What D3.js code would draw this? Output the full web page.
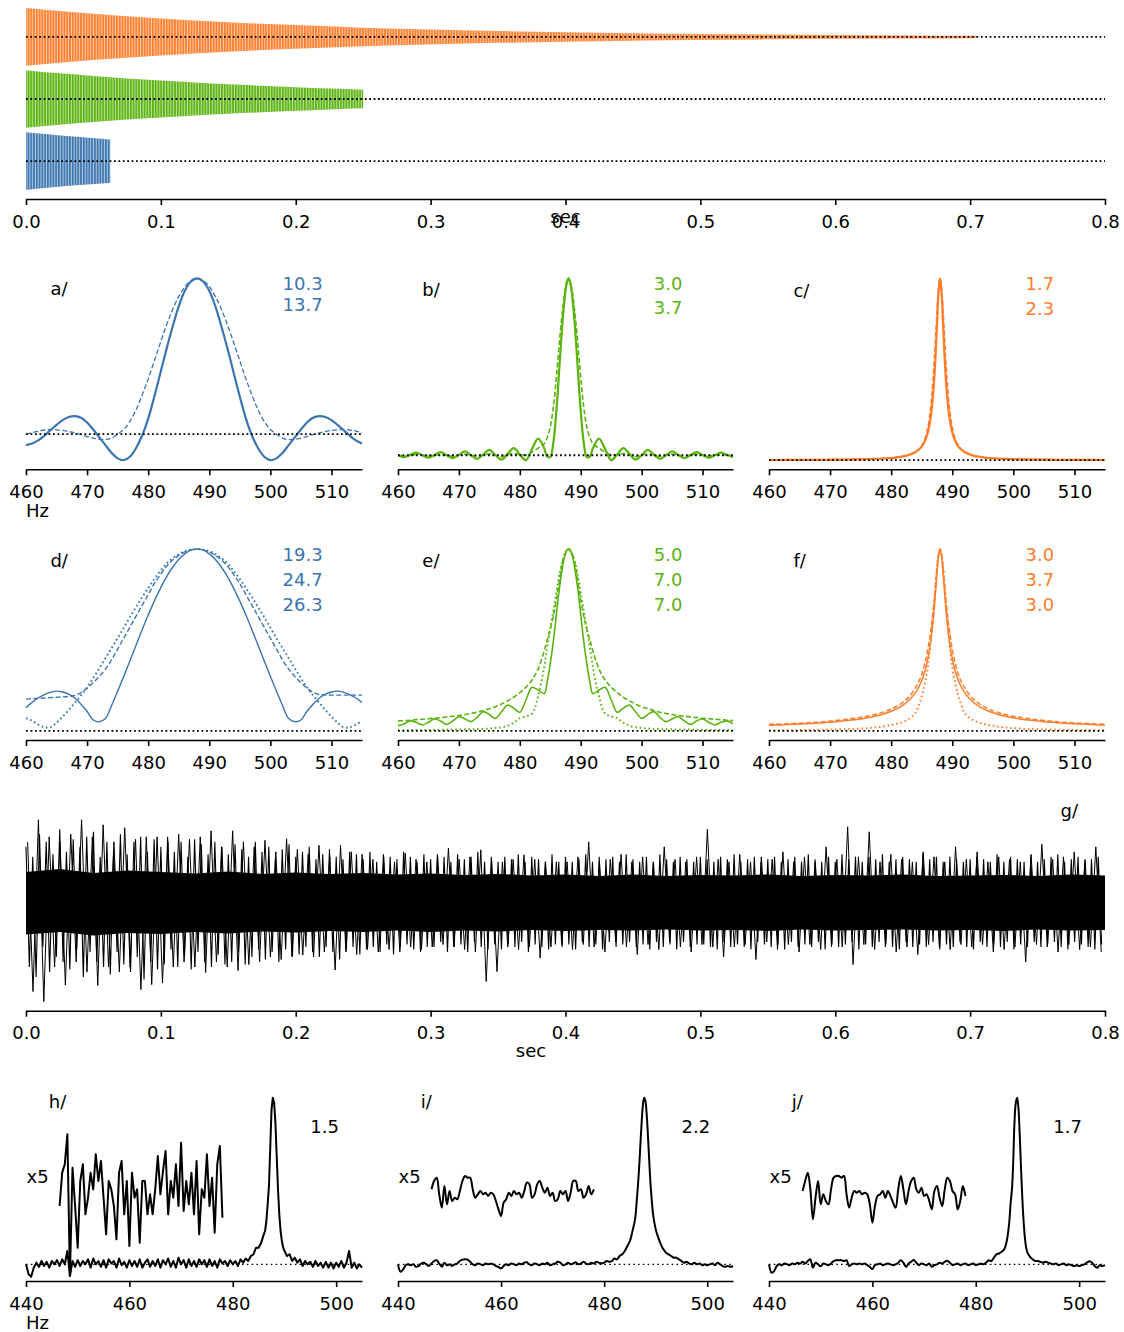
<!DOCTYPE html>
<html><head><meta charset="utf-8">
<script src="https://cdn.jsdelivr.net/npm/d3@7"></script>
<style>
body{margin:0;background:#fff;}
svg text{font-family:"DejaVu Sans",sans-serif;}
</style></head><body>
<svg id="c" width="1124" height="1332"></svg>
<script>
// ---------------- DATA ----------------
const signalHz = 488;
// top panel: FID envelopes (fraction of initial amplitude) and vertical offsets
const fidOffsets = {blue: 0, green: 2.15, orange: 4.3};
const blueT = [0, 0.02, 0.04, 0.0625];
const blueEnv = [1.0, 0.91, 0.83, 0.75];
const greenT = [0, 0.025, 0.05, 0.075, 0.1, 0.125, 0.15, 0.175, 0.2, 0.225, 0.25];
const greenEnv = [1.0, 0.89, 0.8, 0.71, 0.64, 0.57, 0.51, 0.46, 0.41, 0.36, 0.32];
const orangeT = [0, 0.05, 0.1, 0.15, 0.2, 0.25, 0.3, 0.35, 0.4, 0.45, 0.5, 0.55, 0.6, 0.65, 0.7, 0.705];
const orangeEnv = [1.0, 0.8, 0.64, 0.51, 0.41, 0.32, 0.26, 0.205, 0.165, 0.13, 0.105, 0.083, 0.066, 0.053, 0.042, 0.04];
const secTicks = [0, 0.1, 0.2, 0.3, 0.4, 0.5, 0.6, 0.7, 0.8];

// spectra grids
const wideHz = d3.range(460, 516, 1);
const narrowHz = [...d3.range(460, 485), 484.5, 485, 485.5, 486, 486.5, 487, 487.25, 487.5, 487.75, 488, 488.25, 488.5, 488.75, 489, 489.5, 490, 490.5, 491, 491.5, ...d3.range(492, 516)];
const hzTicks = [460, 470, 480, 490, 500, 510];

const aSolid = [-0.07,-0.06,-0.04,-0.01,0.025,0.06,0.09,0.11,0.116,0.105,0.075,0.03,-0.02,-0.07,-0.12,-0.155,-0.167,-0.145,-0.09,-0.01,0.1,0.24,0.393,0.547,0.69,0.82,0.92,0.98,1.0,0.98,0.92,0.82,0.69,0.547,0.393,0.24,0.1,-0.01,-0.09,-0.145,-0.167,-0.155,-0.12,-0.07,-0.02,0.03,0.075,0.105,0.116,0.11,0.09,0.06,0.025,-0.01,-0.04,-0.06];
const aDashed = [0.0,0.01,0.02,0.027,0.03,0.028,0.024,0.017,0.008,-0.003,-0.015,-0.025,-0.033,-0.035,-0.025,0.0,0.03,0.082,0.155,0.25,0.355,0.47,0.587,0.7,0.8,0.883,0.947,0.986,1.0,0.986,0.947,0.883,0.8,0.7,0.587,0.47,0.355,0.25,0.155,0.082,0.03,0.0,-0.025,-0.035,-0.033,-0.025,-0.015,-0.003,0.008,0.017,0.024,0.028,0.03,0.027,0.02,0.01];

const bSolid = [0.0,-0.011,0.002,0.015,0.0,-0.013,0.002,0.018,0.0,-0.016,0.002,0.022,0.0,-0.02,0.004,0.03,0.0,-0.025,0.008,0.04,0.005,-0.028,0.035,0.094,0.04,
  -0.008,-0.01,0.07,0.25,0.5,0.75,0.85,0.93,0.98,1.0,0.98,0.93,0.85,0.75,0.5,0.25,0.07,-0.01,-0.008,
  0.04,0.094,0.035,-0.028,0.005,0.04,0.008,-0.025,0.0,0.03,0.004,-0.02,0.0,0.022,0.002,-0.016,0.0,0.018,0.002,-0.013,0.0,0.015,0.002,-0.011];
const bDashed = [0,-0.003,0,0.004,0,-0.004,0,0.005,0,-0.005,0,0.006,0,-0.006,0.001,0.008,0,-0.008,0.003,0.01,0.004,0.002,0.018,0.04,0.065,
  0.1,0.16,0.27,0.44,0.64,0.82,0.89,0.95,0.985,1,0.985,0.95,0.89,0.82,0.64,0.44,0.27,0.16,0.1,
  0.065,0.04,0.018,0.002,0.004,0.01,0.003,-0.008,0,0.008,0.001,-0.006,0,0.006,0,-0.005,0,0.005,0,-0.004,0,0.004,0,-0.003];

const cSolid = [0.001,0.0012,0.0013,0.0014,0.0015,0.0016,0.0018,0.002,0.0022,0.0025,0.0028,0.003,0.0035,0.004,0.0045,0.005,0.006,0.007,0.008,0.01,0.012,0.016,0.021,0.03,0.045,
  0.058,0.075,0.104,0.153,0.243,0.42,0.562,0.743,0.92,1,0.92,0.743,0.562,0.42,0.243,0.153,0.104,0.075,0.058,
  0.045,0.03,0.021,0.016,0.012,0.01,0.008,0.007,0.006,0.005,0.0045,0.004,0.0035,0.003,0.0028,0.0025,0.0022,0.002,0.0018,0.0016,0.0015,0.0014,0.0013,0.0012];
const cDashed = [0.0012,0.0013,0.0015,0.0016,0.0017,0.0018,0.002,0.0022,0.0024,0.0027,0.003,0.0033,0.0037,0.0042,0.0047,0.0053,0.0062,0.0072,0.0085,0.0105,0.013,0.017,0.022,0.031,0.047,
  0.06,0.08,0.115,0.18,0.3,0.52,0.66,0.82,0.95,1,0.95,0.82,0.66,0.52,0.3,0.18,0.115,0.08,0.06,
  0.047,0.031,0.022,0.017,0.013,0.0105,0.0085,0.0072,0.0062,0.0053,0.0047,0.0042,0.0037,0.0033,0.003,0.0027,0.0024,0.0022,0.002,0.0018,0.0017,0.0016,0.0015,0.0013];

const dSolid = [0.128,0.157,0.181,0.2,0.212,0.219,0.214,0.202,0.18,0.147,0.108,0.06,0.05,0.068,0.139,0.218,0.3,0.385,0.47,0.555,0.637,0.714,0.784,0.847,0.9,0.943,0.974,0.994,1.0,0.994,0.974,0.943,0.9,0.847,0.784,0.714,0.637,0.555,0.47,0.385,0.3,0.218,0.139,0.068,0.05,0.06,0.108,0.147,0.18,0.202,0.214,0.219,0.212,0.2,0.181,0.157];
const dDashed = [0.175,0.177,0.179,0.181,0.183,0.185,0.187,0.19,0.195,0.21,0.235,0.265,0.3,0.34,0.39,0.45,0.51,0.57,0.63,0.69,0.75,0.81,0.86,0.905,0.94,0.965,0.985,0.996,1.0,0.996,0.985,0.965,0.94,0.905,0.86,0.81,0.75,0.69,0.63,0.57,0.51,0.45,0.39,0.34,0.3,0.265,0.235,0.212,0.2,0.198,0.197,0.197,0.197,0.197,0.197,0.197];
const dDotted = [0.07,0.055,0.035,0.02,0.02,0.045,0.078,0.115,0.155,0.195,0.24,0.29,0.345,0.4,0.455,0.51,0.567,0.625,0.68,0.735,0.785,0.835,0.88,0.92,0.95,0.972,0.988,0.997,1.0,0.997,0.988,0.972,0.95,0.92,0.88,0.835,0.785,0.735,0.68,0.625,0.567,0.51,0.455,0.4,0.345,0.29,0.24,0.195,0.155,0.115,0.078,0.045,0.02,0.02,0.035,0.055];

const eSolid = [0.029,0.04,0.055,0.047,0.033,0.048,0.066,0.054,0.036,0.055,0.078,0.066,0.051,0.075,0.106,0.09,0.069,0.105,0.142,0.125,0.102,0.17,0.24,0.225,0.205,
  0.27,0.37,0.49,0.64,0.785,0.9,0.945,0.975,0.995,1,0.995,0.975,0.945,0.9,0.785,0.64,0.49,0.37,0.27,
  0.205,0.225,0.24,0.17,0.102,0.125,0.142,0.105,0.069,0.09,0.106,0.075,0.051,0.066,0.078,0.055,0.036,0.054,0.066,0.048,0.033,0.047,0.055,0.04];
const eDashed = [0.055,0.057,0.059,0.062,0.064,0.067,0.07,0.073,0.077,0.081,0.085,0.09,0.096,0.103,0.112,0.122,0.133,0.148,0.165,0.185,0.21,0.24,0.28,0.34,0.44,
  0.5,0.56,0.63,0.72,0.83,0.93,0.96,0.98,0.995,1,0.995,0.98,0.96,0.93,0.83,0.72,0.63,0.56,0.5,
  0.44,0.34,0.28,0.24,0.21,0.185,0.165,0.148,0.133,0.122,0.112,0.103,0.096,0.09,0.085,0.081,0.077,0.073,0.07,0.067,0.064,0.062,0.059,0.057];
const eDotted = [0.004,0.004,0.0045,0.005,0.005,0.0055,0.006,0.0065,0.007,0.0075,0.008,0.0085,0.009,0.01,0.011,0.013,0.016,0.02,0.028,0.045,0.07,0.08,0.095,0.19,0.35,
  0.46,0.56,0.66,0.76,0.86,0.935,0.96,0.982,0.995,1,0.995,0.982,0.96,0.935,0.86,0.76,0.66,0.56,0.46,
  0.35,0.19,0.095,0.08,0.07,0.045,0.028,0.02,0.016,0.013,0.011,0.01,0.009,0.0085,0.008,0.0075,0.007,0.0065,0.006,0.0055,0.005,0.005,0.0045,0.004];

const fSolid = [0.031,0.032,0.033,0.035,0.036,0.038,0.039,0.041,0.043,0.045,0.048,0.051,0.054,0.058,0.062,0.066,0.072,0.078,0.086,0.096,0.108,0.123,0.143,0.171,0.212,
  0.24,0.277,0.327,0.397,0.5,0.655,0.756,0.866,0.961,1,0.961,0.866,0.756,0.655,0.5,0.397,0.327,0.277,0.24,
  0.212,0.171,0.143,0.123,0.108,0.096,0.086,0.078,0.072,0.066,0.062,0.058,0.054,0.051,0.048,0.045,0.043,0.041,0.039,0.038,0.036,0.035,0.033,0.032];
const fDashed = [0.036,0.037,0.038,0.039,0.041,0.042,0.044,0.046,0.048,0.051,0.054,0.057,0.061,0.065,0.07,0.075,0.081,0.088,0.096,0.107,0.12,0.137,0.16,0.19,0.24,
  0.27,0.31,0.37,0.45,0.56,0.71,0.8,0.9,0.972,1,0.972,0.9,0.8,0.71,0.56,0.45,0.37,0.31,0.27,
  0.24,0.19,0.16,0.137,0.12,0.107,0.096,0.088,0.081,0.075,0.07,0.065,0.061,0.057,0.054,0.051,0.048,0.046,0.044,0.042,0.041,0.039,0.038,0.037];
const fDotted = [0.003,0.0032,0.0035,0.0038,0.004,0.0044,0.0048,0.0052,0.0057,0.0063,0.007,0.0078,0.0088,0.01,0.011,0.013,0.015,0.018,0.021,0.026,0.032,0.04,0.05,0.068,0.1,
  0.14,0.19,0.26,0.35,0.5,0.69,0.8,0.9,0.97,1,0.97,0.9,0.8,0.69,0.5,0.35,0.26,0.19,0.14,
  0.1,0.068,0.05,0.04,0.032,0.026,0.021,0.018,0.015,0.013,0.011,0.01,0.0088,0.0078,0.007,0.0063,0.0057,0.0052,0.0048,0.0044,0.004,0.0038,0.0035,0.0032];

const widthLabels = {a: ["10.3","13.7"], b: ["3.0","3.7"], c: ["1.7","2.3"], d: ["19.3","24.7","26.3"], e: ["5.0","7.0","7.0"], f: ["3.0","3.7","3.0"]};

// g/: noisy FID — dense core envelope, sampled fine excursions and sampled large excursions
const gEnvStep = 0.025;
const gUpper = [0.6,0.66,0.58,0.63,0.6,0.57,0.61,0.56,0.59,0.56,0.58,0.55,0.57,0.54,0.56,0.53,0.55,0.52,0.55,0.52,0.54,0.53,0.55,0.52,0.54,0.53,0.55,0.52,0.53,0.54,0.52,0.55,0.53];
const gLower = [-0.65,-0.6,-0.67,-0.62,-0.64,-0.6,-0.63,-0.59,-0.61,-0.58,-0.6,-0.57,-0.6,-0.57,-0.59,-0.56,-0.58,-0.56,-0.57,-0.55,-0.57,-0.56,-0.58,-0.55,-0.57,-0.56,-0.55,-0.57,-0.56,-0.58,-0.55,-0.57,-0.56];
const gHairStep = 0.0025;
const gHair = [1.1,-1.3,0.9,-1.5,1.35,-0.9,1.2,-1.4,0.95,-1.1,1.45,-1.2,1.0,-1.35,1.25,-0.95,1.1,-1.5,1.3,-1.0,
  1.4,-1.2,0.9,-1.3,1.2,-1.45,1.05,-1.0,1.35,-1.25,0.95,-1.4,1.2,-1.1,1.3,-1.55,1.0,-1.2,1.25,-1.35,
  1.1,-1.25,1.3,-0.95,1.0,-1.3,1.2,-1.1,0.9,-1.35,1.25,-1.0,1.15,-1.2,0.95,-1.3,1.2,-1.05,1.1,-1.25,
  0.95,-1.2,1.15,-1.0,1.05,-1.25,0.9,-1.1,1.2,-0.95,1.0,-1.15,1.1,-1.0,0.9,-1.2,1.05,-0.95,1.15,-1.1,
  0.9,-1.05,1.0,-0.9,1.1,-1.0,0.85,-1.1,0.95,-0.9,1.05,-1.0,0.9,-1.15,0.85,-0.95,1.0,-0.9,0.95,-1.05,
  0.85,-0.95,1.0,-0.9,0.8,-1.0,0.95,-0.85,0.9,-1.05,0.85,-0.9,1.0,-0.85,0.9,-0.95,0.8,-1.0,0.95,-0.9,
  0.85,-0.9,0.95,-0.8,0.9,-1.0,0.8,-0.9,0.95,-0.85,0.85,-1.0,0.9,-0.8,1.0,-0.9,0.8,-0.95,0.9,-0.85,
  0.8,-0.95,0.9,-0.85,0.85,-0.9,0.95,-0.8,0.8,-1.0,0.9,-0.85,0.85,-0.9,0.8,-0.95,0.95,-0.85,0.8,-0.9,
  0.9,-0.85,0.8,-0.95,0.85,-0.8,0.95,-0.9,0.8,-0.85,0.9,-0.95,0.85,-0.8,0.9,-0.9,0.8,-0.85,0.95,-0.8,
  0.85,-0.9,0.8,-0.85,0.9,-0.95,0.8,-0.8,0.95,-0.9,0.85,-0.85,0.8,-0.95,0.9,-0.8,0.85,-0.9,0.8,-0.85,
  0.9,-0.85,0.85,-0.9,0.8,-0.95,0.9,-0.8,0.85,-0.9,0.95,-0.85,0.8,-0.9,0.85,-0.95,0.9,-0.8,0.8,-0.85,
  0.85,-0.9,0.9,-0.85,0.8,-0.95,0.85,-0.8,0.9,-0.9,0.8,-0.85,0.95,-0.9,0.85,-0.8,0.8,-0.95,0.9,-0.85,
  0.8,-0.9,0.95,-0.85,0.85,-0.8,0.9,-0.95,0.8,-0.85,0.9,-0.9,0.85,-0.8,0.95,-0.85,0.8,-0.9,0.85,-0.95,
  0.9,-0.8,0.85,-0.9,0.8,-0.85,0.95,-0.9,0.85,-0.8,0.9,-0.95,0.8,-0.85,0.9,-0.9,0.85,-0.8,0.8,-0.9,
  0.85,-0.95,0.9,-0.8,0.85,-0.9,0.8,-0.85,0.95,-0.9,0.8,-0.8,0.9,-0.95,0.85,-0.85,0.8,-0.9,0.9,-0.8,
  0.8,-0.9,0.85,-0.85,0.9,-0.8,0.95,-0.9,0.8,-0.95,0.85,-0.8,0.9,-0.85,0.8,-0.9,0.85,-0.95,0.9,-0.85];
const gSpikeStep = 0.004;
const gSpikes = [1.2,-1.79,1.64,-1.99,1.3,-1.3,1.2,-1.66,1.35,-1.2,1.64,-1.4,1.3,-1.67,1.54,-1.3,1.2,-1.4,1.48,-1.3,1.25,-1.75,1.3,-1.65,1.3,
  -1.62,1.2,-1.3,1.35,-1.2,1.25,-1.3,1.3,-1.41,1.42,-1.2,1.1,-1.3,1.42,-1.37,1.2,-1.25,1.1,-1.2,1.23,-1.1,1.0,-1.15,1.26,-1.09,
  1.05,-1.06,0.95,-1.1,1.13,-1.0,0.9,-1.36,1.13,-1.0,1.0,-1.05,0.95,-0.95,0.85,-1.0,0.9,-0.95,0.8,-1.0,0.97,-0.9,0.85,-0.95,0.8,
  -0.9,0.9,-0.85,1.07,-0.9,0.85,-0.95,0.9,-1.0,1.04,-1.59,0.85,-1.39,0.8,-0.9,0.85,-0.95,0.94,-0.9,0.85,-1.12,0.8,-0.9,0.8,-0.85,
  0.8,-0.95,0.9,-0.85,1.2,-0.9,0.8,-1.0,0.85,-0.8,0.95,-0.9,0.8,-1.05,0.9,-0.85,0.8,-0.95,1.1,-0.8,0.85,-0.9,0.8,-1.0,0.9,
  -0.85,1.45,-0.9,0.85,-1.1,0.8,-0.9,0.95,-0.85,0.8,-1.15,0.9,-0.8,0.85,-0.95,1.0,-0.85,0.8,-1.0,0.9,-0.85,0.8,-0.95,1.1,-0.9,
  0.85,-0.9,1.5,-1.25,0.9,-0.85,1.4,-0.95,0.8,-0.9,0.95,-1.0,0.85,-0.9,0.8,-1.05,1.0,-0.85,0.9,-0.9,0.8,-0.95,1.1,-0.85,0.85,
  -0.9,1.0,-0.85,0.8,-1.0,0.9,-0.95,0.85,-0.9,0.8,-1.2,0.95,-0.85,1.15,-0.9,0.85,-1.0,0.9,-0.85,1.0,-0.95,0.85,-0.9,1.1,-1.0];

// h/ i/ j/: noisy spectra
const rowHz = [...d3.range(440, 486, 0.5), ...d3.range(486, 490, 0.25), ...d3.range(490, 505.001, 0.5)];
const insetHz = d3.range(446.5, 478.001, 0.5);
const hzTicks2 = [440, 460, 480, 500];
const hVals = [0.0,-0.06,-0.075,-0.02,0.01,-0.015,0.02,-0.01,0.015,-0.02,
  0.02,0.0,0.025,-0.01,0.03,0.0,0.08,-0.07,0.02,-0.015,
  0.025,-0.01,0.02,0.0,0.03,-0.02,0.035,0.0,0.02,-0.015,
  0.025,-0.02,0.03,0.005,0.02,-0.02,0.035,-0.005,0.015,-0.02,
  0.025,-0.01,0.02,-0.015,0.03,-0.02,0.01,0.03,-0.015,0.02,
  -0.01,0.03,-0.02,0.025,0.0,0.035,-0.015,0.02,-0.02,0.04,
  0.0,0.025,-0.02,0.03,-0.01,0.02,-0.015,0.03,0.0,0.025,
  -0.015,0.03,-0.01,0.02,-0.02,0.03,0.005,0.02,-0.01,0.025,
  0.0,0.02,-0.01,0.03,0.01,0.035,0.02,0.05,0.06,0.1,
  0.1,0.13,
  0.18,0.2,0.26,0.36,0.47,0.7,0.93,1.0,0.97,0.85,0.65,0.45,0.3,0.2,0.14,0.1,
  0.08,0.05,0.06,0.02,0.04,0.01,0.03,-0.01,0.02,0.0,
  0.015,-0.015,0.02,-0.01,0.01,-0.02,0.015,-0.02,0.01,-0.025,
  0.01,-0.015,0.02,-0.02,0.01,0.08,-0.02,0.01,-0.025,0.0,-0.02];
const hInset = [0.35,0.55,0.6,0.78,-0.07,0.58,0.35,0.1,0.5,0.6,
  0.3,0.4,0.55,0.45,0.66,0.5,0.62,0.4,0.18,0.5,
  0.45,0.35,0.15,0.55,0.62,0.3,0.5,0.11,0.55,0.4,
  0.45,0.13,0.5,0.5,0.3,0.42,0.3,0.45,0.65,0.42,
  0.56,0.68,0.3,0.5,0.4,0.6,0.35,0.73,0.32,0.5,
  0.36,0.55,0.3,0.62,0.18,0.45,0.4,0.66,0.35,0.52,
  0.19,0.6,0.71,0.28];
const iVals = [0.0,-0.045,-0.03,-0.005,0.0,-0.005,0.0,-0.015,-0.01,0.005,
  0.01,0.0,-0.01,0.005,0.02,0.025,0.005,-0.015,0.01,-0.005,
  0.0,-0.01,0.0,0.005,0.02,0.028,0.03,0.028,0.015,0.0,
  -0.005,0.005,0.0,-0.005,0.005,0.0,0.005,0.0,-0.01,-0.015,
  -0.025,-0.01,0.0,-0.005,0.005,0.0,-0.005,0.005,0.0,0.01,
  0.012,0.0,-0.005,0.005,0.0,-0.005,0.005,0.0,0.01,-0.005,
  0.0,0.005,0.015,0.01,-0.005,0.0,0.01,0.0,0.005,0.012,
  0.0,0.005,0.015,0.005,0.0,0.01,0.005,0.015,0.01,0.005,
  0.01,0.02,0.015,0.02,0.035,0.03,0.05,0.06,0.08,0.11,
  0.14,0.2,
  0.27,0.35,0.45,0.56,0.7,0.84,0.95,1.0,0.98,0.9,0.77,0.62,0.48,0.38,0.3,0.25,
  0.21,0.16,0.12,0.09,0.07,0.06,0.05,0.04,0.04,0.03,
  0.02,0.01,0.015,0.005,0.0,0.01,0.0,0.005,-0.005,0.0,
  -0.005,0.0,0.005,-0.005,0.01,0.0,-0.01,-0.015,-0.01,-0.015,-0.01];
const iInset = [0.45,0.5,0.52,0.42,0.34,0.47,0.36,0.44,0.38,0.4,
  0.39,0.44,0.5,0.53,0.52,0.52,0.45,0.4,0.42,0.44,
  0.42,0.43,0.41,0.43,0.42,0.38,0.33,0.29,0.37,0.39,
  0.43,0.41,0.44,0.42,0.43,0.4,0.44,0.49,0.48,0.4,
  0.42,0.48,0.5,0.46,0.43,0.46,0.41,0.43,0.38,0.39,
  0.44,0.42,0.44,0.38,0.43,0.5,0.5,0.44,0.45,0.4,
  0.42,0.47,0.42,0.45];
const jVals = [0.0,-0.05,-0.04,-0.01,0.0,-0.005,0.005,0.0,-0.005,0.005,
  0.0,0.01,0.005,0.015,0.005,0.02,0.03,-0.02,0.01,0.0,
  -0.012,0.005,0.0,-0.005,0.005,0.02,0.025,0.025,0.025,0.02,
  0.025,-0.01,0.0,0.005,0.0,0.005,0.0,0.005,-0.005,-0.015,
  -0.028,-0.005,0.0,0.005,-0.005,0.0,0.005,0.0,-0.005,0.0,
  0.01,0.025,0.01,-0.015,0.005,0.015,0.026,0.01,-0.005,0.005,
  0.0,-0.005,0.005,-0.015,-0.005,0.0,0.01,0.005,0.015,0.022,
  0.01,-0.005,0.0,0.005,-0.005,0.0,0.005,-0.005,0.0,0.005,
  -0.005,0.0,0.005,0.0,0.01,0.025,0.02,0.04,0.06,0.065,
  0.075,0.09,
  0.14,0.19,0.26,0.37,0.45,0.62,0.86,0.97,1.0,0.94,0.78,0.58,0.4,0.26,0.16,0.1,
  0.07,0.045,0.03,0.02,0.02,0.015,0.01,0.015,0.01,0.005,
  0.0,0.005,-0.005,0.0,0.005,-0.005,0.0,-0.005,-0.01,-0.005,
  -0.01,-0.005,0.0,0.01,0.018,0.01,-0.01,-0.02,-0.005,-0.01,-0.005];
const jInset = [0.44,0.5,0.55,0.45,0.27,0.4,0.5,0.36,0.42,0.38,
  0.36,0.45,0.52,0.53,0.53,0.52,0.53,0.42,0.34,0.4,
  0.44,0.43,0.44,0.42,0.43,0.42,0.36,0.25,0.35,0.41,
  0.42,0.44,0.4,0.44,0.41,0.37,0.34,0.45,0.53,0.45,
  0.36,0.44,0.5,0.52,0.45,0.43,0.46,0.41,0.42,0.38,
  0.33,0.44,0.47,0.4,0.35,0.45,0.52,0.5,0.44,0.42,
  0.33,0.38,0.47,0.41];
const rowLabels = {h: "1.5", i: "2.2", j: "1.7"};

// ---------------- DRAWING ----------------
const COL = {blue: "#3b75af", green: "#5ab30f", orange: "#fd7d2b"};
const FS = 18;
const AXH = 200;
const colL = [26, 362], colM = [398, 733], colR = [769, 1105], full = [26, 1105];
const svg = d3.select("#c");
svg.append("rect").attr("width", 1124).attr("height", 1332).attr("fill", "#fff");
const defs = svg.append("defs");

function padDomain(vals) {
  const [lo, hi] = d3.extent(vals);
  const p = (hi - lo) * 0.05;
  return [lo - p, hi + p];
}
function xAxis(scale, y, ticks, fmt) {
  const g = svg.append("g").attr("transform", `translate(0,${y})`)
    .call(d3.axisBottom(scale).tickValues(ticks).tickFormat(fmt).tickSizeInner(6).tickSizeOuter(0).tickPadding(10));
  g.attr("font-family", "DejaVu Sans").attr("font-size", FS);
  g.select(".domain").attr("stroke", "#000").attr("stroke-width", 1.6);
  g.selectAll(".tick line").attr("stroke", "#000").attr("stroke-width", 1.6);
  g.selectAll(".tick text").attr("fill", "#000");
}
function txt(x, y, s, color, opts = {}) {
  return svg.append("text").attr("x", x).attr("y", y).text(s)
    .attr("fill", color).attr("font-size", FS)
    .attr("text-anchor", opts.anchor || "start")
    .attr("dominant-baseline", opts.baseline || "central");
}

// ---- top panel: FIDs
{
  const x = d3.scaleLinear().domain([0, 0.8]).range(full);
  const allV = [];
  [[blueEnv, fidOffsets.blue], [greenEnv, fidOffsets.green], [orangeEnv, fidOffsets.orange]].forEach(([e, o]) => e.forEach(v => { allV.push(o + v, o - v); }));
  const y = d3.scaleLinear().domain(padDomain(allV)).range([199, 199 - AXH]);
  const period = x(1 / signalHz) - x(0);
  const series = [["blue", blueT, blueEnv], ["green", greenT, greenEnv], ["orange", orangeT, orangeEnv]];
  series.forEach(([name, T, E]) => {
    const p = defs.append("pattern").attr("id", "st-" + name).attr("patternUnits", "userSpaceOnUse")
      .attr("width", period).attr("height", 10);
    p.append("rect").attr("width", period).attr("height", 10).attr("fill", COL[name]).attr("fill-opacity", 0.4);
    p.append("rect").attr("width", period * 0.62).attr("height", 10).attr("fill", COL[name]);
    const off = fidOffsets[name];
    const area = d3.area().x((d, i) => x(T[i])).y0(d => y(off - d)).y1(d => y(off + d)).curve(d3.curveMonotoneX);
    svg.append("path").attr("d", area(E)).attr("fill", `url(#st-${name})`);
  });
  series.forEach(([name]) => {
    const off = fidOffsets[name];
    svg.append("line").attr("x1", x(0)).attr("x2", x(0.8)).attr("y1", y(off)).attr("y2", y(off))
      .attr("stroke", "#000").attr("stroke-width", 1.8).attr("stroke-dasharray", "1.8,2.6");
  });
  xAxis(x, 199, secTicks, d3.format(".1f"));
  txt((full[0] + full[1]) / 2, 199 + 24, "sec", "#000", {anchor: "middle", baseline: "auto"});
}

// ---- spectra rows a-f
function spectrumPanel(xr, yb, hz, curves, name, labels, color) {
  const x = d3.scaleLinear().domain([460, 515]).range(xr);
  const allV = [0];
  curves.forEach(c => allV.push(...c.v));
  const y = d3.scaleLinear().domain(padDomain(allV)).range([yb, yb - AXH]);
  const line = d3.line().x((d, i) => x(hz[i])).y(d => y(d)).curve(d3.curveCatmullRom.alpha(0.5));
  curves.forEach(c => {
    svg.append("path").attr("d", line(c.v)).attr("fill", "none").attr("stroke", color)
      .attr("stroke-width", c.w).attr("stroke-dasharray", c.dash || null).attr("stroke-linejoin", "round");
  });
  svg.append("line").attr("x1", x(460)).attr("x2", x(515)).attr("y1", y(0)).attr("y2", y(0))
    .attr("stroke", "#000").attr("stroke-width", 1.8).attr("stroke-dasharray", "1.8,2.7");
  xAxis(x, yb, hzTicks, d3.format("d"));
  txt(x(464), y(0.935), name + "/", "#000");
  const ly = [0.97, 0.833, 0.696];
  labels.forEach((s, k) => txt(x(502), y(ly[k]), s, color));
  return {x, y};
}
const DASH = "5,2.4", DOT = "1.6,2.8";
const row2 = 469.3, row3 = 740;
spectrumPanel(colL, row2, wideHz, [{v: aDashed, w: 1.3, dash: DASH}, {v: aSolid, w: 2.2}], "a", widthLabels.a, COL.blue);
spectrumPanel(colM, row2, narrowHz, [{v: bDashed, w: 1.6, dash: DASH}, {v: bSolid, w: 2.2}], "b", widthLabels.b, COL.green);
spectrumPanel(colR, row2, narrowHz, [{v: cDashed, w: 1.6, dash: DASH}, {v: cSolid, w: 2.2}], "c", widthLabels.c, COL.orange);
spectrumPanel(colL, row3, wideHz, [{v: dDotted, w: 2.0, dash: DOT}, {v: dDashed, w: 1.4, dash: DASH}, {v: dSolid, w: 1.4}], "d", widthLabels.d, COL.blue);
spectrumPanel(colM, row3, narrowHz, [{v: eDotted, w: 2.0, dash: DOT}, {v: eDashed, w: 1.6, dash: DASH}, {v: eSolid, w: 1.6}], "e", widthLabels.e, COL.green);
spectrumPanel(colR, row3, narrowHz, [{v: fDotted, w: 2.0, dash: DOT}, {v: fDashed, w: 1.5, dash: DASH}, {v: fSolid, w: 1.5}], "f", widthLabels.f, COL.orange);
txt(colL[0], row2 + 47.5, "Hz", "#000", {baseline: "auto"});

// ---- g/ noisy FID
{
  const yb = 1010.7;
  const x = d3.scaleLinear().domain([0, 0.8]).range(full);
  const y = d3.scaleLinear().domain(padDomain(gSpikes.concat(gHair))).range([yb, yb - AXH]);
  const area = d3.area().x((d, i) => x(i * gEnvStep)).y0((d, i) => y(gLower[i])).y1(d => y(d));
  svg.append("path").attr("d", area(gUpper)).attr("fill", "#000");
  const hair = d3.line().x((d, i) => x(i * gHairStep)).y(d => y(d));
  svg.append("path").attr("d", hair(gHair)).attr("fill", "none").attr("stroke", "#000").attr("stroke-width", 1.1);
  const spk = d3.line().x((d, i) => x(0.0012 + i * gSpikeStep)).y(d => y(d));
  svg.append("path").attr("d", spk(gSpikes)).attr("fill", "none").attr("stroke", "#000").attr("stroke-width", 1.0);
  xAxis(x, yb, secTicks, d3.format(".1f"));
  txt(531, yb + 46, "sec", "#000", {anchor: "middle", baseline: "auto"});
  txt(x(0.767), y(1.83), "g/", "#000");
}

// ---- h/ i/ j/
function noisyPanel(xr, vals, inset, name, label) {
  const yb = 1281;
  const x = d3.scaleLinear().domain([440, 505]).range(xr);
  const y = d3.scaleLinear().domain([-0.1, 1.1]).range([yb, yb - AXH]);
  const curve = name === "h" ? d3.curveLinear : d3.curveCatmullRom.alpha(0.5);
  const line = d3.line().x((d, i) => x(rowHz[i])).y(d => y(d)).curve(curve);
  const lineI = d3.line().x((d, i) => x(insetHz[i])).y(d => y(d)).curve(curve);
  svg.append("line").attr("x1", x(440)).attr("x2", x(505)).attr("y1", y(0)).attr("y2", y(0))
    .attr("stroke", "#000").attr("stroke-width", 1.3).attr("stroke-dasharray", "1.6,3.2");
  svg.append("path").attr("d", line(vals)).attr("fill", "none").attr("stroke", "#000").attr("stroke-width", 2).attr("stroke-linejoin", "round");
  svg.append("path").attr("d", lineI(inset)).attr("fill", "none").attr("stroke", "#000").attr("stroke-width", 2).attr("stroke-linejoin", "round");
  xAxis(x, yb, hzTicks2, d3.format("d"));
  txt(x(444.4), y(0.98), name + "/", "#000");
  txt(x(495), y(0.83), label, "#000");
  txt(x(440.1), y(0.53), "x5", "#000");
}
noisyPanel(colL, hVals, hInset, "h", rowLabels.h);
noisyPanel(colM, iVals, iInset, "i", rowLabels.i);
noisyPanel(colR, jVals, jInset, "j", rowLabels.j);
txt(colL[0], 1281 + 47.5, "Hz", "#000", {baseline: "auto"});
</script></body></html>
